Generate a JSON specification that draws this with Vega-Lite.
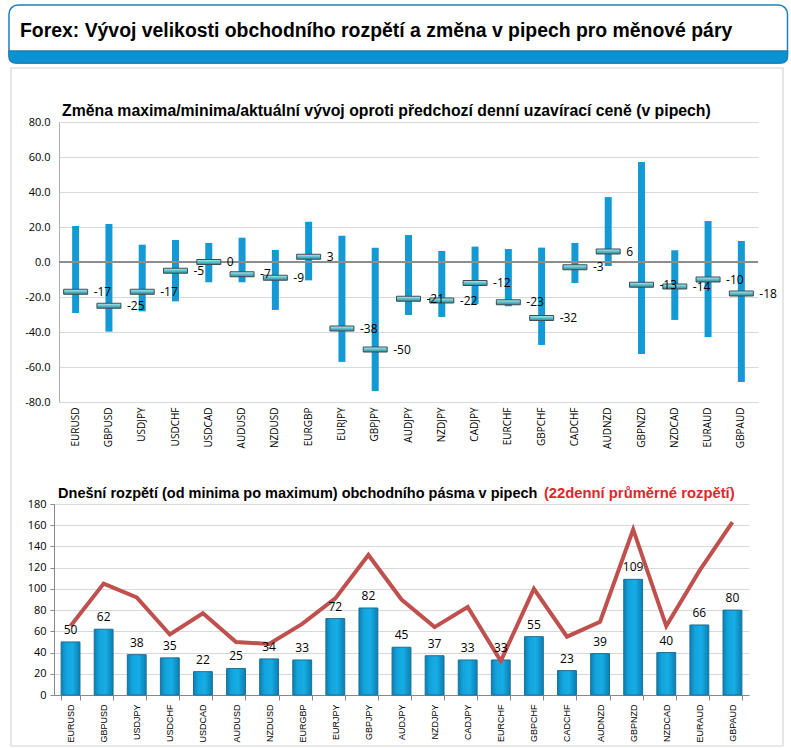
{
  "$schema": "https://vega.github.io/schema/vega-lite/v6.json",
  "padding": {"left": 8, "top": 4, "right": 2, "bottom": 0},
  "background": "white",
  "config": {
    "font": "Liberation Sans",
    "view": {"stroke": null},
    "axis": {"labelFont": "Liberation Sans", "labelColor": "#000000", "title": null, "labelOverlap": false},
    "locale": {"number": {"decimal": ".", "thousands": ",", "grouping": [3], "currency": ["$", ""], "minus": "-"}}
  },
  "datasets": {
    "hdr": [{"t": "Forex: Vývoj velikosti obchodního rozpětí a změna v pipech pro měnové páry"}],
    "fx": [
      {"pair": "EURUSD", "high": 20.6, "low": -29.1, "cur": -17, "range": 50, "avg": 65},
      {"pair": "GBPUSD", "high": 21.7, "low": -39.8, "cur": -25, "range": 62, "avg": 105},
      {"pair": "USDJPY", "high": 9.9, "low": -28.2, "cur": -17, "range": 38, "avg": 92},
      {"pair": "USDCHF", "high": 12.6, "low": -22.5, "cur": -5, "range": 35, "avg": 57},
      {"pair": "USDCAD", "high": 10.9, "low": -11.6, "cur": 0, "range": 22, "avg": 77},
      {"pair": "AUDUSD", "high": 13.9, "low": -11.6, "cur": -7, "range": 25, "avg": 50},
      {"pair": "NZDUSD", "high": 6.9, "low": -27.4, "cur": -9, "range": 34, "avg": 48},
      {"pair": "EURGBP", "high": 23.0, "low": -10.5, "cur": 3, "range": 33, "avg": 67},
      {"pair": "EURJPY", "high": 15.0, "low": -57.1, "cur": -38, "range": 72, "avg": 91},
      {"pair": "GBPJPY", "high": 8.2, "low": -73.7, "cur": -50, "range": 82, "avg": 132},
      {"pair": "AUDJPY", "high": 15.4, "low": -30.3, "cur": -21, "range": 45, "avg": 90},
      {"pair": "NZDJPY", "high": 6.3, "low": -31.4, "cur": -22, "range": 37, "avg": 64},
      {"pair": "CADJPY", "high": 8.8, "low": -24.0, "cur": -12, "range": 33, "avg": 83},
      {"pair": "EURCHF", "high": 7.4, "low": -25.3, "cur": -23, "range": 33, "avg": 32},
      {"pair": "GBPCHF", "high": 8.2, "low": -47.4, "cur": -32, "range": 55, "avg": 100},
      {"pair": "CADCHF", "high": 10.9, "low": -12.0, "cur": -3, "range": 23, "avg": 55},
      {"pair": "AUDNZD", "high": 37.1, "low": -2.3, "cur": 6, "range": 39, "avg": 69},
      {"pair": "GBPNZD", "high": 57.1, "low": -52.6, "cur": -13, "range": 109, "avg": 156},
      {"pair": "NZDCAD", "high": 6.7, "low": -33.1, "cur": -14, "range": 40, "avg": 65},
      {"pair": "EURAUD", "high": 23.4, "low": -42.9, "cur": -10, "range": 66, "avg": 117},
      {"pair": "GBPAUD", "high": 12.0, "low": -68.6, "cur": -18, "range": 80, "avg": 163}
    ]
  },
  "bounds": "flush",
  "spacing": 59,
  "vconcat": [
    {
      "data": {"name": "hdr"},
      "width": 729,
      "height": 58,
      "encoding": {
        "x": {"datum": 8, "type": "quantitative", "scale": {"domain": [58, 787], "nice": false, "zero": false}, "axis": null},
        "x2": {"datum": 786.5},
        "y": {"datum": 5, "type": "quantitative", "scale": {"domain": [5, 63], "nice": false, "zero": false, "reverse": true}, "axis": null}
      },
      "layer": [
        {
          "mark": {"type": "rect", "fill": "none", "stroke": "#d6d6d6", "strokeWidth": 1.2},
          "encoding": {
            "x": {"datum": 10, "type": "quantitative"},
            "x2": {"datum": 782},
            "y": {"datum": 68, "type": "quantitative"},
            "y2": {"datum": 746}
          }
        },
        {
          "mark": {"type": "rect", "fill": "white", "stroke": "#1b7fc0", "strokeWidth": 1.5, "cornerRadius": 9},
          "encoding": {"y2": {"datum": 63}}
        },
        {
          "mark": {"type": "rect", "fill": "#0a93d0", "stroke": "#1b7fc0", "strokeWidth": 1.5, "cornerRadiusBottomLeft": 9, "cornerRadiusBottomRight": 9},
          "encoding": {"y": {"datum": 51, "type": "quantitative"}, "y2": {"datum": 63}}
        },
        {
          "mark": {"type": "text", "align": "left", "baseline": "alphabetic", "fontSize": 19.4, "fontWeight": "bold", "color": "#000000", "font": "Liberation Sans"},
          "encoding": {
            "x": {"datum": 19, "type": "quantitative"},
            "x2": null,
            "y": {"datum": 36.5, "type": "quantitative"},
            "text": {"field": "t", "type": "nominal"}
          }
        }
      ]
    },
    {
      "bounds": "flush",
      "spacing": 102,
      "vconcat": [
        {
          "data": {"name": "fx"},
          "width": 699,
          "height": 280,
          "encoding": {
            "x": {
              "field": "pair", "type": "nominal", "sort": null,
              "scale": {"paddingInner": 0.4, "paddingOuter": 0.2},
              "axis": {"labelAngle": -90, "labelFontSize": 10, "labelFont": "Open Sans", "labelPadding": 5, "ticks": false, "domain": false, "labelBaseline": "middle"}
            }
          },
          "layer": [
            {
              "mark": {"type": "bar", "width": 7, "color": "#1399d3"},
              "encoding": {
                "y": {
                  "field": "high", "type": "quantitative",
                  "scale": {"domain": [-80, 80], "nice": false},
                  "axis": {"values": [-80, -60, -40, -20, 0, 20, 40, 60, 80], "format": ".1f", "labelFontSize": 11, "labelFont": "Open Sans", "ticks": false, "labelPadding": 9, "domainColor": "#b0b0b0", "gridColor": "#d9d9d9", "labelOverlap": false}
                },
                "y2": {"field": "low"}
              }
            },
            {
              "mark": {"type": "rule", "color": "#8c8c8c", "strokeWidth": 1},
              "encoding": {
                "y": {"datum": 0, "type": "quantitative", "axis": {"values": [-80, -60, -40, -20, 0, 20, 40, 60, 80], "format": ".1f", "labelFontSize": 11, "labelFont": "Open Sans", "ticks": false, "labelPadding": 9, "domainColor": "#b0b0b0", "gridColor": "#d9d9d9", "labelOverlap": false}},
                "x": null
              }
            },
            {
              "mark": {
                "type": "tick", "thickness": 5, "size": 24, "stroke": "#3d4d55", "strokeWidth": 1,
                "color": {"gradient": "linear", "x1": 0, "y1": 0, "x2": 0, "y2": 1,
                  "stops": [{"offset": 0, "color": "#b9eef2"}, {"offset": 0.5, "color": "#5dbfcb"}, {"offset": 1, "color": "#2f8795"}]},
                "opacity": 1
              },
              "encoding": {"y": {"field": "cur", "type": "quantitative", "axis": {"values": [-80, -60, -40, -20, 0, 20, 40, 60, 80], "format": ".1f", "labelFontSize": 11, "labelFont": "Open Sans", "ticks": false, "labelPadding": 9, "domainColor": "#b0b0b0", "gridColor": "#d9d9d9", "labelOverlap": false}}}
            },
            {
              "mark": {"type": "text", "align": "left", "baseline": "middle", "dx": 18, "fontSize": 12, "font": "Open Sans", "color": "#000000"},
              "encoding": {
                "y": {"field": "cur", "type": "quantitative", "axis": {"values": [-80, -60, -40, -20, 0, 20, 40, 60, 80], "format": ".1f", "labelFontSize": 11, "labelFont": "Open Sans", "ticks": false, "labelPadding": 9, "domainColor": "#b0b0b0", "gridColor": "#d9d9d9", "labelOverlap": false}},
                "text": {"field": "cur", "type": "quantitative", "format": "d"}
              }
            },
            {
              "data": {"values": [{"t": "Změna maxima/minima/aktuální vývoj oproti předchozí denní uzavírací ceně (v pipech)"}]},
              "mark": {"type": "text", "align": "left", "baseline": "alphabetic", "dx": -13.6, "dy": -6, "fontSize": 15.8, "fontWeight": "bold", "color": "#000000"},
              "encoding": {
                "x": {"datum": "EURUSD"},
                "y": {"datum": 80, "type": "quantitative", "axis": {"values": [-80, -60, -40, -20, 0, 20, 40, 60, 80], "format": ".1f", "labelFontSize": 11, "labelFont": "Open Sans", "ticks": false, "labelPadding": 9, "domainColor": "#b0b0b0", "gridColor": "#d9d9d9", "labelOverlap": false}},
                "text": {"field": "t", "type": "nominal"}
              }
            }
          ]
        },
        {
          "data": {"name": "fx"},
          "width": 690,
          "height": 191,
          "encoding": {
            "x": {
              "field": "pair", "type": "nominal", "sort": null,
              "scale": {"range": [-5, 690], "paddingInner": 0.43, "paddingOuter": 0.215},
              "axis": {"labelAngle": -90, "labelFontSize": 9, "labelFont": "Liberation Sans", "labelPadding": 4, "tickBand": "extent", "tickSize": 5, "tickColor": "#888888", "domainColor": "#888888", "labelBaseline": "middle"}
            }
          },
          "layer": [
            {
              "mark": {
                "type": "bar", "stroke": "#1c6f94", "strokeWidth": 1,
                "color": {"gradient": "linear", "x1": 0, "y1": 0, "x2": 1, "y2": 0,
                  "stops": [{"offset": 0, "color": "#0b7fb2"}, {"offset": 0.25, "color": "#12a3dc"}, {"offset": 0.6, "color": "#17ade6"}, {"offset": 1, "color": "#0b7fb2"}]}
              },
              "encoding": {
                "y": {
                  "field": "range", "type": "quantitative",
                  "scale": {"domain": [0, 180], "nice": false},
                  "axis": {"values": [0, 20, 40, 60, 80, 100, 120, 140, 160, 180], "labelFontSize": 11, "labelFont": "Open Sans", "tickSize": 4, "tickColor": "#888888", "domainColor": "#888888", "labelPadding": 4, "gridColor": "#d9d9d9", "offset": 5, "labelOverlap": false}
                }
              }
            },
            {
              "mark": {"type": "line", "color": "#c0504d", "strokeWidth": 4, "strokeJoin": "miter"},
              "encoding": {"y": {"field": "avg", "type": "quantitative", "axis": {"values": [0, 20, 40, 60, 80, 100, 120, 140, 160, 180], "labelFontSize": 11, "labelFont": "Open Sans", "tickSize": 4, "tickColor": "#888888", "domainColor": "#888888", "labelPadding": 4, "gridColor": "#d9d9d9", "offset": 5, "labelOverlap": false}}}
            },
            {
              "mark": {"type": "text", "baseline": "alphabetic", "dy": -8, "fontSize": 12, "font": "Open Sans", "color": "#000000"},
              "encoding": {
                "y": {"field": "range", "type": "quantitative", "axis": {"values": [0, 20, 40, 60, 80, 100, 120, 140, 160, 180], "labelFontSize": 11, "labelFont": "Open Sans", "tickSize": 4, "tickColor": "#888888", "domainColor": "#888888", "labelPadding": 4, "gridColor": "#d9d9d9", "offset": 5, "labelOverlap": false}},
                "text": {"field": "range", "type": "quantitative"}
              }
            },
            {
              "data": {"values": [{"t": "Dnešní rozpětí (od minima po maximum) obchodního pásma v pipech"}]},
              "mark": {"type": "text", "align": "left", "baseline": "alphabetic", "dx": -12.5, "dy": -6, "fontSize": 14.5, "fontWeight": "bold", "color": "#000000"},
              "encoding": {
                "x": {"datum": "EURUSD"},
                "y": {"datum": 180, "type": "quantitative", "axis": {"values": [0, 20, 40, 60, 80, 100, 120, 140, 160, 180], "labelFontSize": 11, "labelFont": "Open Sans", "tickSize": 4, "tickColor": "#888888", "domainColor": "#888888", "labelPadding": 4, "gridColor": "#d9d9d9", "offset": 5, "labelOverlap": false}},
                "text": {"field": "t", "type": "nominal"}
              }
            },
            {
              "data": {"values": [{"t": "(22denní průměrné rozpětí)"}]},
              "mark": {"type": "text", "align": "left", "baseline": "alphabetic", "dx": 10, "dy": -6, "fontSize": 14.8, "fontWeight": "bold", "color": "#e0262b"},
              "encoding": {
                "x": {"datum": "GBPCHF"},
                "y": {"datum": 180, "type": "quantitative", "axis": {"values": [0, 20, 40, 60, 80, 100, 120, 140, 160, 180], "labelFontSize": 11, "labelFont": "Open Sans", "tickSize": 4, "tickColor": "#888888", "domainColor": "#888888", "labelPadding": 4, "gridColor": "#d9d9d9", "offset": 5, "labelOverlap": false}},
                "text": {"field": "t", "type": "nominal"}
              }
            }
          ]
        }
      ]
    }
  ]
}
